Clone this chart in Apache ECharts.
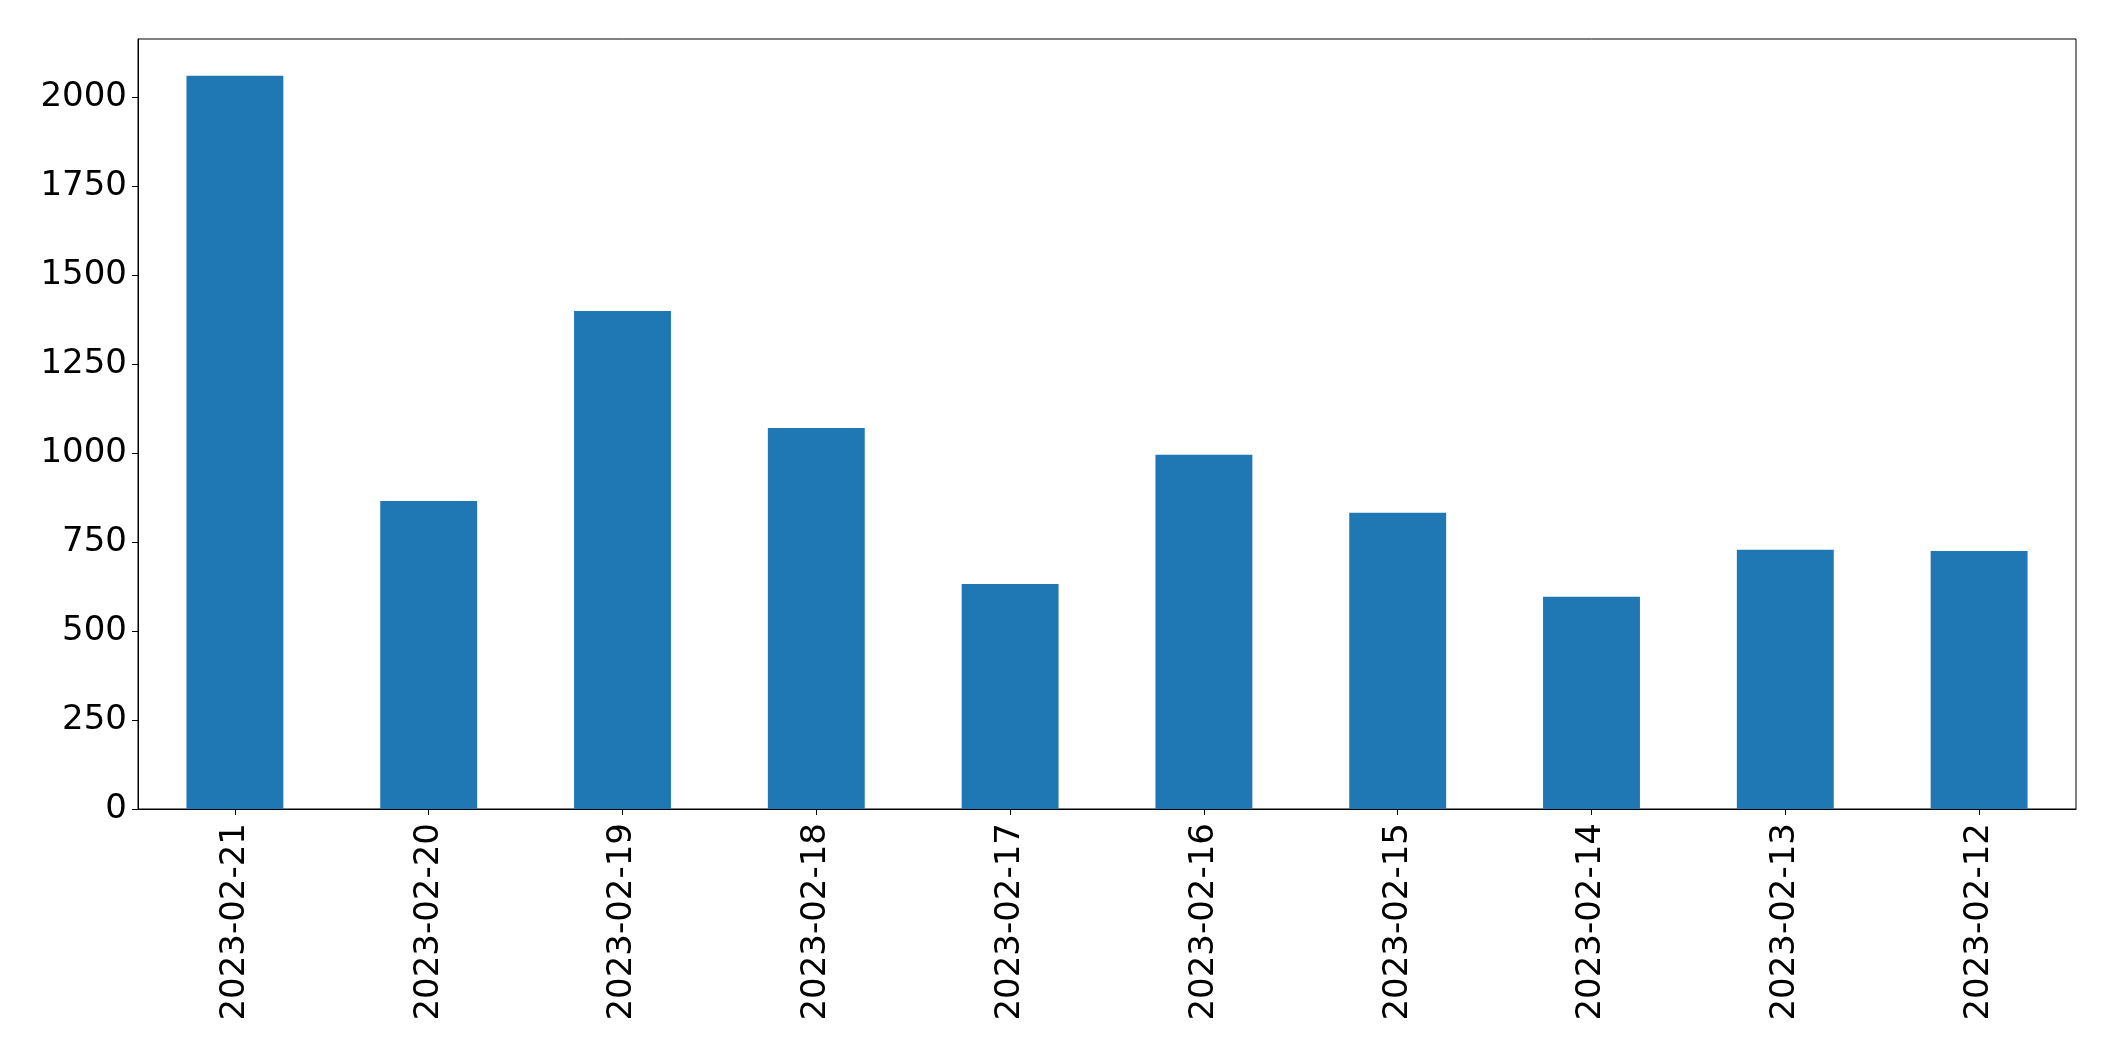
<!DOCTYPE html>
<html>
<head>
<meta charset="utf-8">
<script src="https://cdn.jsdelivr.net/npm/echarts@6/dist/echarts.min.js"></script>
<style>html,body{margin:0;padding:0;background:#fff}#c{width:2115px;height:1061px}</style>
</head>
<body>
<div id="c"></div>
<script>
const categories = ['2023-02-21','2023-02-20','2023-02-19','2023-02-18','2023-02-17','2023-02-16','2023-02-15','2023-02-14','2023-02-13','2023-02-12'];
const values = [2060, 865, 1399, 1070, 632, 995, 832, 596, 728, 725];
const yTicks = [0, 250, 500, 750, 1000, 1250, 1500, 1750, 2000];
const yMax = 2163;

const chart = echarts.init(document.getElementById('c'), null, {renderer: 'canvas'});
chart.setOption({
  animation: false,
  backgroundColor: '#ffffff',
  grid: {left: 138, right: 39, top: 39, bottom: 252, show: true, borderColor: '#000', borderWidth: 1, containLabel: false},
  xAxis: {
    type: 'category',
    data: categories,
    boundaryGap: true,
    axisLine: {show: true, lineStyle: {color: '#000', width: 1}},
    axisTick: {show: true, alignWithLabel: true, length: 6, lineStyle: {color: '#000', width: 1}},
    axisLabel: {rotate: 90, margin: 14, color: '#000', fontSize: 34, fontFamily: 'DejaVu Sans', interval: 0}
  },
  yAxis: {
    type: 'value',
    min: 0,
    max: yMax,
    interval: 250,
    splitLine: {show: false},
    axisLine: {show: true, lineStyle: {color: '#000', width: 1}},
    axisTick: {show: true, length: 6, lineStyle: {color: '#000', width: 1}, customValues: yTicks},
    axisLabel: {margin: 11, color: '#000', fontSize: 34, fontFamily: 'DejaVu Sans', customValues: yTicks,
      formatter: function (v) { return String(v); }}
  },
  series: [{
    type: 'bar',
    data: values,
    barWidth: '50%',
    itemStyle: {color: '#1f77b4'}
  }]
});
</script>
</body>
</html>
